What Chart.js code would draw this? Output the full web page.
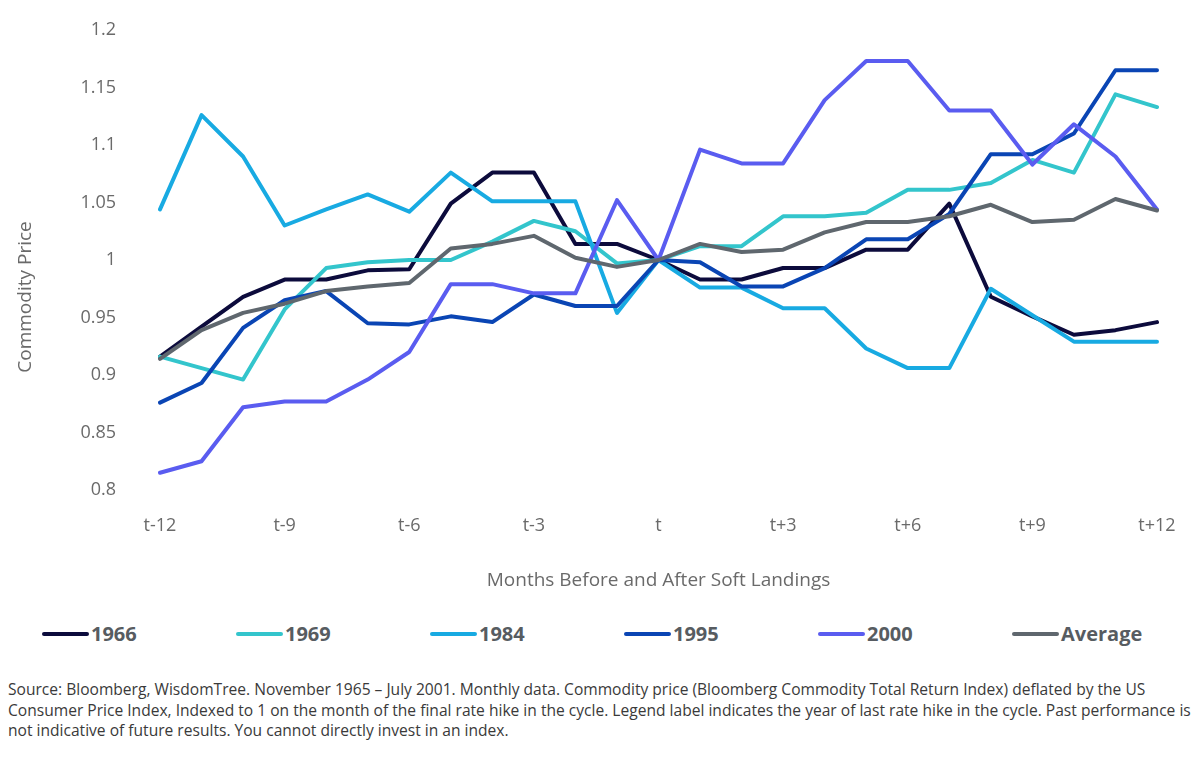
<!DOCTYPE html>
<html><head><meta charset="utf-8">
<script src="https://cdn.jsdelivr.net/npm/chart.js@4.4.1/dist/chart.umd.min.js"></script>
<style>
html,body{margin:0;padding:0;background:#fff;width:1200px;height:757px;overflow:hidden;}
#wrap{position:absolute;left:0;top:0;width:1200px;height:600px;}
#legend{position:absolute;left:42px;top:619px;height:30px;display:flex;}
.item{width:194px;display:flex;align-items:center;height:30px;}
.swatch{width:47px;height:4px;border-radius:2px;margin-right:2px;}
.lab{font-family:"Open Sans";font-weight:700;font-size:20px;color:#575c61;line-height:30px;}
#source{position:absolute;left:8px;top:679px;font-family:"Open Sans";font-size:14px;line-height:20.5px;color:#3a3a3a;white-space:pre;}
</style></head>
<body>
<div id="wrap"><canvas id="c" width="1200" height="600"></canvas></div>
<div id="legend"></div>
<div id="source"></div>
<script>
// ---- data ----
const months = ['t-12','t-11','t-10','t-9','t-8','t-7','t-6','t-5','t-4','t-3','t-2','t-1','t',
                't+1','t+2','t+3','t+4','t+5','t+6','t+7','t+8','t+9','t+10','t+11','t+12'];
const shownXTicks = ['t-12','t-9','t-6','t-3','t','t+3','t+6','t+9','t+12'];
const seriesNames = ['1966','1969','1984','1995','2000','Average'];
const v1966 = [0.916,0.942,0.968,0.983,0.983,0.991,0.992,1.049,1.076,1.076,1.014,1.014,1.000,0.983,0.983,0.993,0.993,1.009,1.009,1.049,0.968,0.951,0.935,0.939,0.946];
const v1969 = [0.916,0.906,0.896,0.957,0.993,0.998,1.000,1.000,1.016,1.034,1.025,0.997,1.000,1.012,1.012,1.038,1.038,1.041,1.061,1.061,1.067,1.087,1.076,1.144,1.133];
const v1984 = [1.044,1.126,1.090,1.030,1.044,1.057,1.042,1.076,1.051,1.051,1.051,0.954,1.000,0.976,0.976,0.958,0.958,0.923,0.906,0.906,0.975,0.952,0.929,0.929,0.929];
const v1995 = [0.876,0.893,0.941,0.965,0.973,0.945,0.944,0.951,0.946,0.970,0.960,0.960,1.000,0.998,0.977,0.977,0.993,1.018,1.018,1.040,1.092,1.092,1.110,1.165,1.165];
const v2000 = [0.815,0.825,0.872,0.877,0.877,0.896,0.920,0.979,0.979,0.971,0.971,1.052,1.000,1.096,1.084,1.084,1.139,1.173,1.173,1.130,1.130,1.083,1.118,1.090,1.044];
const vAvg  = [0.914,0.939,0.954,0.962,0.973,0.977,0.980,1.010,1.014,1.021,1.002,0.994,1.000,1.014,1.007,1.009,1.024,1.033,1.033,1.038,1.048,1.033,1.035,1.053,1.043];
const seriesValues = [v1966, v1969, v1984, v1995, v2000, vAvg];
const seriesColors = ['#0c0b3c','#33c5cc','#18aae2','#0a45b4','#5a5cf0','#5f676e'];
const yMin = 0.8, yMax = 1.2, yStep = 0.05;
const xTitle = 'Months Before and After Soft Landings';
const yTitle = 'Commodity Price';
const sourceLines = [
 'Source: Bloomberg, WisdomTree. November 1965 \u2013 July 2001. Monthly data. Commodity price (Bloomberg Commodity Total Return Index) deflated by the US',
 'Consumer Price Index, Indexed to 1 on the month of the final rate hike in the cycle. Legend label indicates the year of last rate hike in the cycle. Past performance is',
 'not indicative of future results. You cannot directly invest in an index.'
];

const tickColor = '#6a6a6a';
const yTitlePlugin = {
  id:'yTitle',
  afterDraw(chart){
    const c = chart.ctx;
    c.save();
    c.translate(26, 297);
    c.rotate(-Math.PI/2);
    c.textAlign='center'; c.textBaseline='middle';
    c.fillStyle = tickColor;
    c.font = '19px "Open Sans"';
    c.fillText(yTitle, 0, 0);
    c.restore();
  }
};

new Chart(document.getElementById('c'), {
  type:'line',
  data:{
    labels: months,
    datasets: seriesNames.map((n,i)=>({
      label:n, data:seriesValues[i], borderColor:seriesColors[i], backgroundColor:seriesColors[i],
      borderWidth:4, pointRadius:0, pointHoverRadius:0, tension:0, fill:false,
      borderJoinStyle:'round', borderCapStyle:'round', order: seriesNames.length - i
    }))
  },
  options:{
    responsive:false, animation:false,
    layout:{padding:{left:0,right:43,top:30,bottom:8}},
    plugins:{legend:{display:false}, tooltip:{enabled:false}},
    scales:{
      x:{
        type:'category', offset:false,
        grid:{display:false, drawTicks:true, tickLength:21}, border:{display:false},
        ticks:{autoSkip:false, maxRotation:0, padding:4, color:tickColor,
          font:{family:'Open Sans', size:18},
          callback:(v,i)=> shownXTicks.includes(months[i]) ? months[i] : ''},
        title:{display:true, text:xTitle, color:tickColor, font:{family:'Open Sans', size:19}, padding:{top:0,bottom:0}},
        afterFit:s=>{s.height = 102;}
      },
      y:{
        min:yMin, max:yMax,
        grid:{display:false, drawTicks:true, tickLength:40}, border:{display:false},
        ticks:{stepSize:yStep, padding:4, color:tickColor, font:{family:'Open Sans', size:18},
          callback:v=> String(+v.toFixed(2))},
        afterFit:s=>{s.width = 160;}
      }
    }
  },
  plugins:[yTitlePlugin]
});

// legend
const lg = document.getElementById('legend');
seriesNames.forEach((n,i)=>{
  const it = document.createElement('div'); it.className='item';
  const sw = document.createElement('div'); sw.className='swatch'; sw.style.background=seriesColors[i];
  const lb = document.createElement('span'); lb.className='lab'; lb.textContent=n;
  it.appendChild(sw); it.appendChild(lb); lg.appendChild(it);
});
// source note, sized so the first line spans the same width as the reference
const src = document.getElementById('source');
const mc = document.createElement('canvas').getContext('2d');
mc.font = '15px "Open Sans"';
const fs = 15 * 1138 / mc.measureText(sourceLines[0]).width;
src.style.fontSize = fs.toFixed(2) + 'px';
src.textContent = sourceLines.join('\n');
</script>
</body></html>
